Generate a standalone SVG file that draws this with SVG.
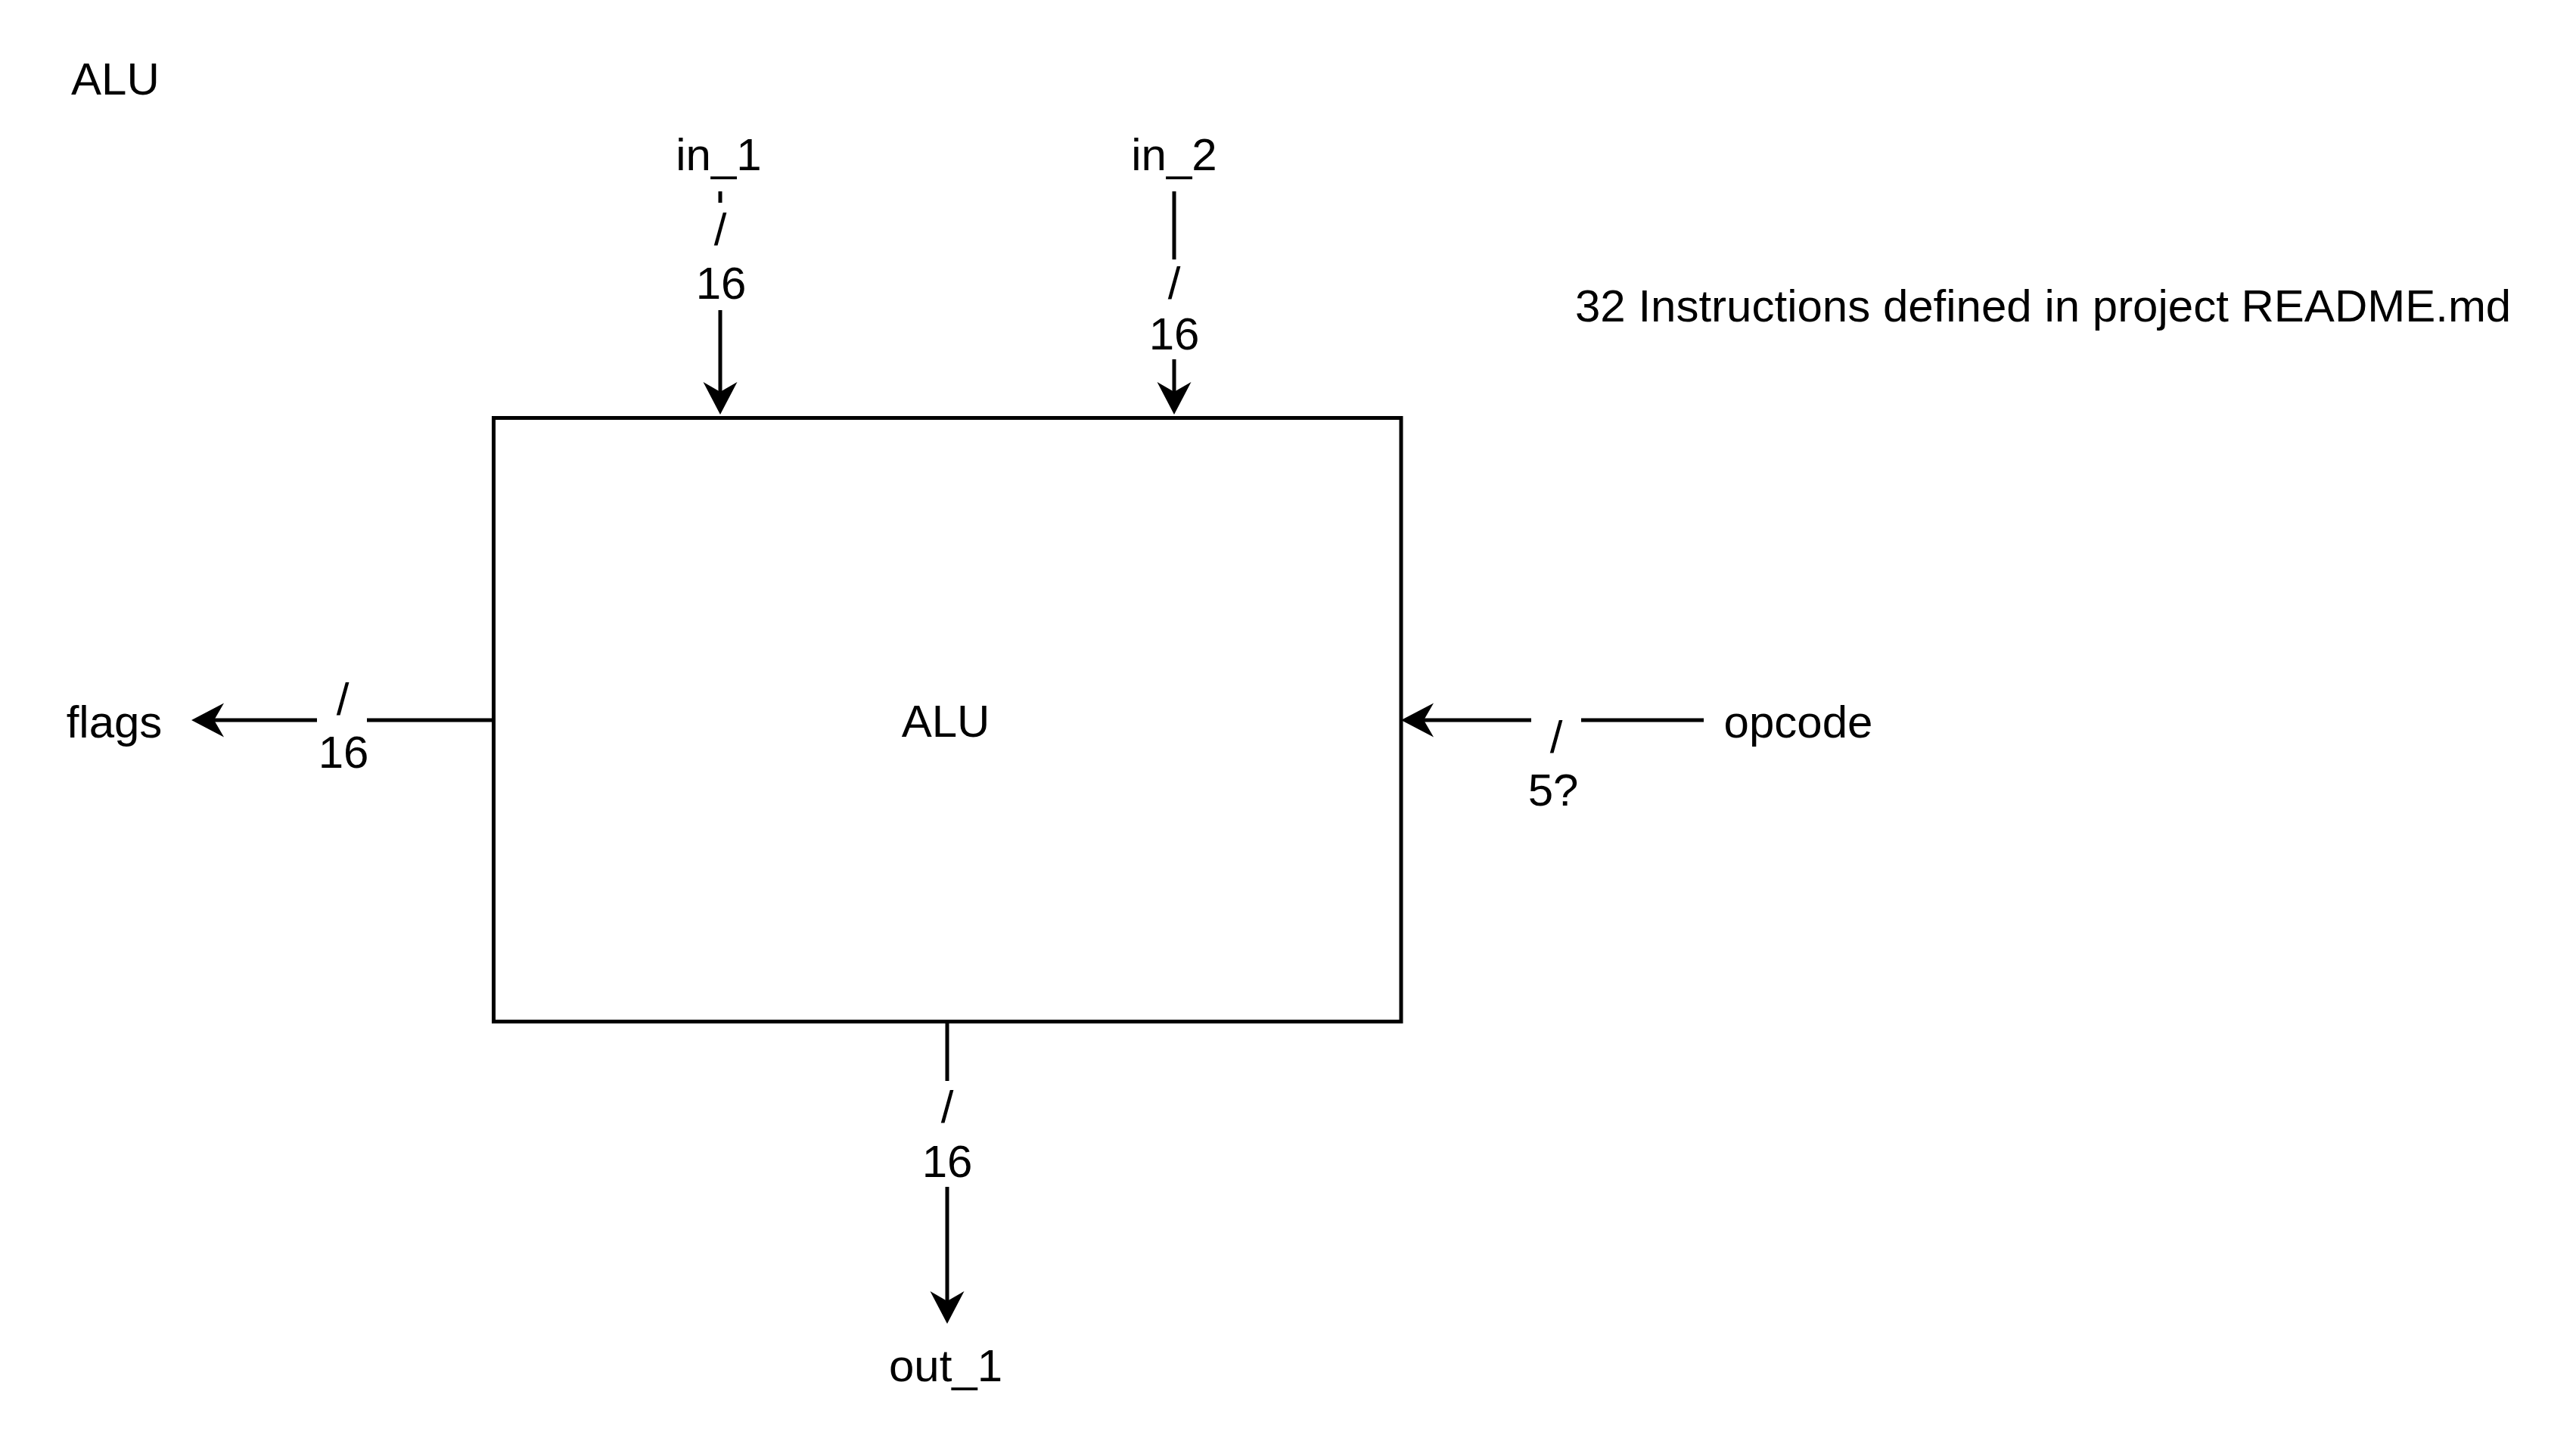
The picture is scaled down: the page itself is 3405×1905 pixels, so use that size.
<svg xmlns="http://www.w3.org/2000/svg" width="3405" height="1905" viewBox="0 0 3405 1905">
  <style>
    text { font-family: "Liberation Sans", Arial, Helvetica, sans-serif; font-size: 60px; fill: #000000; }
    .mid { text-anchor: middle; }
    .edge { fill: none; stroke: #000000; stroke-width: 5; marker-end: url(#arrow); }
    .box { fill: #ffffff; stroke: #000000; stroke-width: 5; }
  </style>
  <defs>
    <marker id="arrow" markerUnits="userSpaceOnUse" viewBox="-15 -25 50 50" markerWidth="50" markerHeight="50" refX="0" refY="0" orient="auto">
      <path d="M30,0 L-13,-22.5 L0,0 L-13,22.5 Z" fill="#000000" stroke="none"/>
    </marker>
  </defs>
  <rect width="3405" height="1905" fill="#ffffff"/>

  <g id="title">
    <text x="94" y="125">ALU</text>
  </g>

  <g id="alu">
    <rect class="box" x="652.5" y="552.5" width="1199.5" height="798"/>
    <text class="mid" x="1250" y="974">ALU</text>
  </g>

  <g id="in_1">
    <text class="mid" x="950" y="225">in_1</text>
  </g>
  <g id="in_2">
    <text class="mid" x="1552" y="225">in_2</text>
  </g>
  <g id="flags">
    <text class="mid" x="151" y="975">flags</text>
  </g>
  <g id="opcode">
    <text class="mid" x="2377" y="975">opcode</text>
  </g>
  <g id="out_1">
    <text class="mid" x="1250" y="1826">out_1</text>
  </g>
  <g id="note">
    <text x="2082" y="425">32 Instructions defined in project README.md</text>
  </g>

  <g id="connectors">
    <path class="edge" d="M952,253 V268 M952,410 V518"/>
    <path class="edge" d="M1552,253 V343 M1552,475 V518"/>
    <path class="edge" d="M652,952 H485 M419,952 H283"/>
    <path class="edge" d="M2252,952 H2090 M2024,952 H1882"/>
    <path class="edge" d="M1252,1351 V1429 M1252,1569 V1720"/>
    <g id="connector-labels">
      <text class="mid" x="952" y="324">/</text>
      <text class="mid" x="953" y="395">16</text>
      <text class="mid" x="1552" y="395">/</text>
      <text class="mid" x="1552" y="462">16</text>
      <text class="mid" x="453" y="945">/</text>
      <text class="mid" x="454" y="1015">16</text>
      <text class="mid" x="2057" y="995">/</text>
      <text class="mid" x="2053" y="1065">5?</text>
      <text class="mid" x="1252" y="1484">/</text>
      <text class="mid" x="1252" y="1556">16</text>
    </g>
  </g>
</svg>
